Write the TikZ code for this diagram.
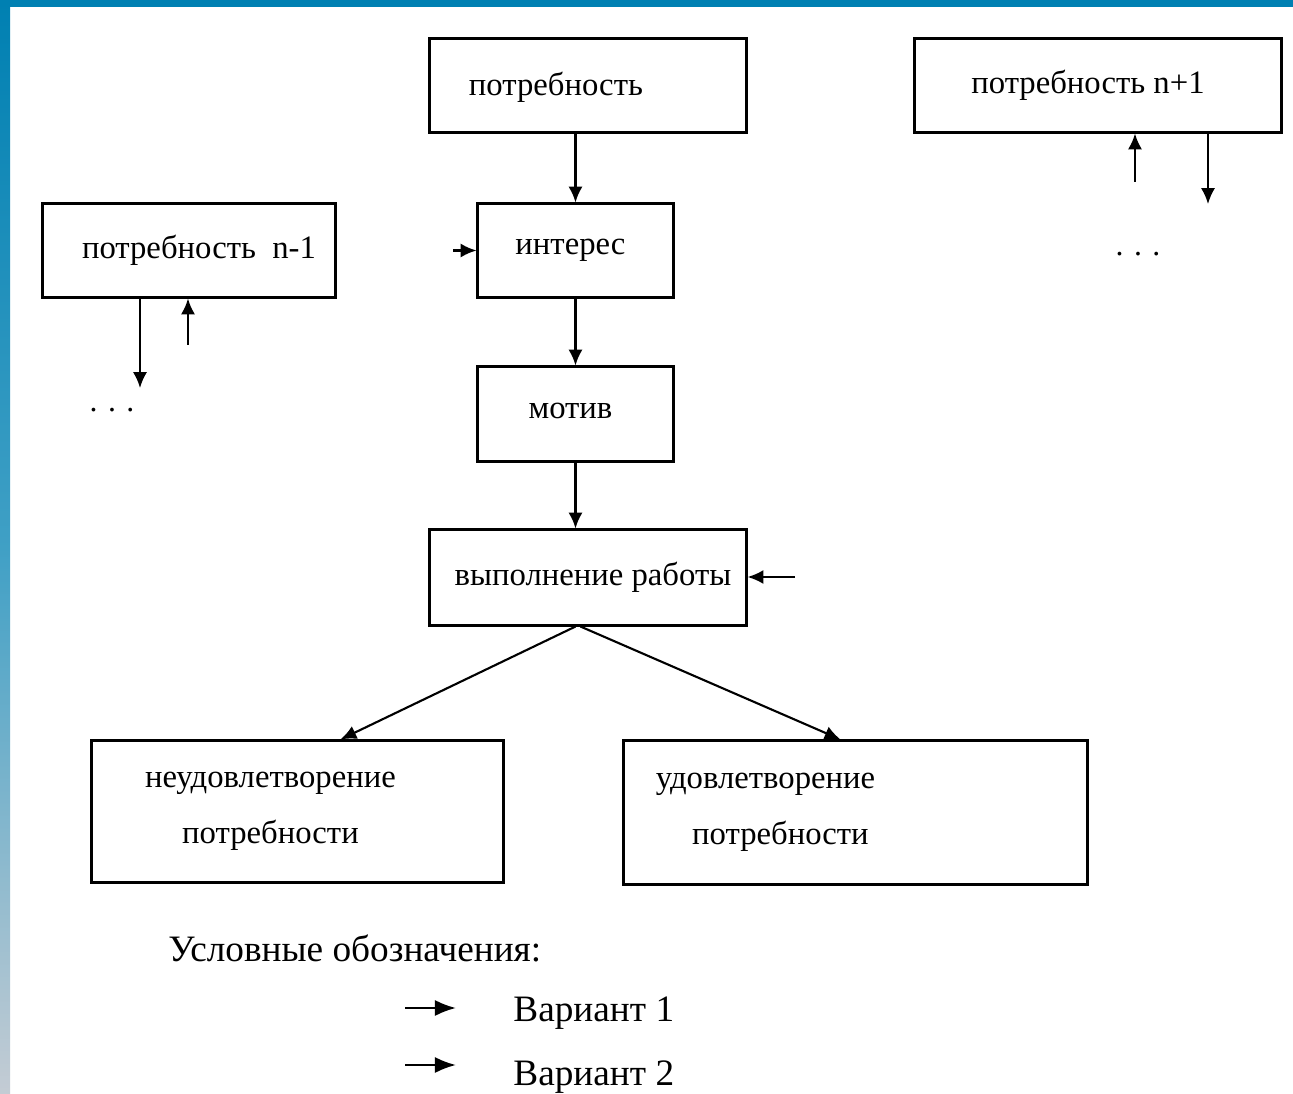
\documentclass[tikz,border=0pt]{standalone}
\usepackage{fontspec}
\setmainfont{Liberation Serif}
\usetikzlibrary{arrows.meta,calc}
\definecolor{frameblue}{RGB}{0,128,178}
\definecolor{framegrey}{RGB}{196,204,212}
\begin{document}
\begin{tikzpicture}[x=0.01cm,y=-0.01cm,
    box/.style={rectangle,draw,line width=0.85pt,inner sep=0pt,
      font=\fontsize{9.3}{16}\selectfont},
    arr/.style={-{Latex[length=4.5pt,width=4pt]},line width=0.6pt},
    legarr/.style={-{Latex[length=6pt,width=4.6pt]},line width=0.7pt},
    dots/.style={font=\fontsize{9}{10}\selectfont}]
  \useasboundingbox (0,0) rectangle (1293,1094);
  % frame of the slide
  \fill[white] (0,0) rectangle (1293,1094);
  \shade[top color=frameblue,bottom color=framegrey,middle color=frameblue!75!white]
    (0,0) rectangle (10,1094);
  \fill[frameblue] (0,0) rectangle (1293,7);

  \node[box,minimum width=3.16cm,minimum height=0.93cm,
    label={[xshift=-0.32cm,yshift=-0.02cm,font=\fontsize{9.3}{16}\selectfont]center:потребность}]
    (potr) at (588,85.5) {};
  \node[box,minimum width=3.66cm,minimum height=0.93cm] (potrnp) at (1098,85.5)
    {потребность n+1\hspace*{0.2cm}};
  \node[box,minimum width=2.92cm,minimum height=0.93cm] (potrnm) at (189,250.5)
    {\hspace*{0.2cm}потребность\enspace n-1};
  \node[box,minimum width=1.95cm,minimum height=0.93cm] (inter) at (575.5,250.5)
    {интерес\hspace*{0.1cm}};
  \node[box,minimum width=1.95cm,minimum height=0.94cm] (motiv) at (575.5,414)
    {\raisebox{0.06cm}{мотив}\hspace*{0.1cm}};
  \node[box,minimum width=3.16cm,minimum height=0.95cm] (vyp) at (588,577.5)
    {\hspace*{0.1cm}\raisebox{0.03cm}{выполнение работы}};
  \node[box,minimum width=4.11cm,minimum height=1.41cm,
    label={[xshift=-0.27cm,align=center,font=\fontsize{9.3}{16}\selectfont]center:неудовлетворение\\потребности}]
    (neud) at (297.5,811.5) {};
  \node[box,minimum width=4.63cm,minimum height=1.43cm,
    label={[xshift=-0.9cm,align=center,font=\fontsize{9.3}{16}\selectfont]center:удовлетворение\\\hspace*{0.3cm}потребности}]
    (udov) at (855.5,812.5) {};

  % main chain
  \draw[arr] (potr.south -| inter.north) -- (inter.north);
  \draw[arr] (inter.south) -- (motiv.north);
  \draw[arr] (motiv.south) -- (motiv.south |- vyp.north);
  \coordinate (split) at (motiv.south |- vyp.south);
  \draw[arr] (split) -- ([xshift=0.43cm]neud.north);
  \draw[arr] ([xshift=0.05cm]split) -- ([xshift=-0.15cm]udov.north);
  \coordinate (intin) at ([xshift=-0.23cm]inter.west);
  \draw[arr] (intin) -- (inter.west);
  \coordinate (vypin) at (795,577);
  \draw[arr] (vypin) -- (vyp.east |- vypin);

  % neighbouring needs
  \coordinate (nmdown) at (140,388);
  \coordinate (nmup) at (188,345);
  \draw[arr] (potrnm.south -| nmdown) -- (nmdown);
  \draw[arr] (nmup) -- (potrnm.south -| nmup);
  \node[dots] (nmdots) at (112,410) {. . .};
  \coordinate (npup) at (1135,182);
  \coordinate (npdown) at (1208,204);
  \draw[arr] (npup) -- (potrnp.south -| npup);
  \draw[arr] (potrnp.south -| npdown) -- (npdown);
  \node[dots] (npdots) at (1138,254) {. . .};

  % legend
  \node[font=\fontsize{10.6}{13}\selectfont,anchor=west] (legend) at (156,948)
    {Условные обозначения:};
  \coordinate (l1a) at (405,1008);
  \coordinate (l1b) at (456,1008);
  \draw[legarr] (l1a) -- (l1b);
  \node[font=\fontsize{10.6}{13}\selectfont,anchor=west] (var1) at (501,1013) {Вариант 1};
  \coordinate (l2a) at (405,1065);
  \coordinate (l2b) at (456,1065);
  \draw[legarr] (l2a) -- (l2b);
  \node[font=\fontsize{10.6}{13}\selectfont,anchor=west] (var2) at (501,1077) {Вариант 2};
\end{tikzpicture}
\end{document}
